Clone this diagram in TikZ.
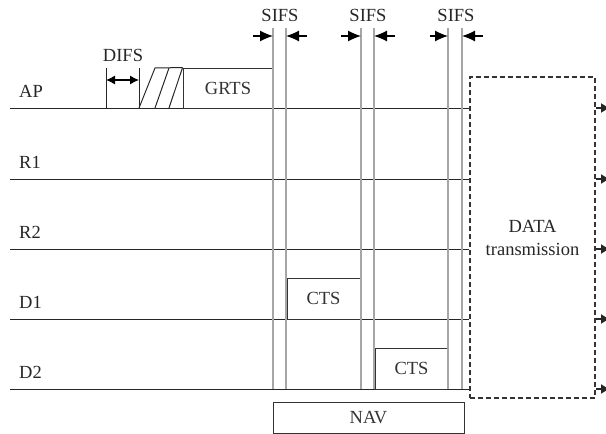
\documentclass[tikz,border=0pt]{standalone}
\usepackage{fontspec}
\setmainfont{Liberation Serif}
\usetikzlibrary{arrows.meta}
\begin{document}
\begin{tikzpicture}[x=1pt,y=-1pt,
  font=\fontsize{18.5}{21}\selectfont,
  tl/.style={line width=1pt,black!85},
  frame/.style={draw,line width=0.9pt,black!80,inner sep=0pt},
  gl/.style={line width=1.3pt,black!35},
  sarrow/.style={line width=1.1pt,-{Latex[length=13pt,width=11pt]}},
  datab/.style={draw,dashed,dash pattern=on 5pt off 3pt,line width=2pt,black!80,inner sep=0pt,align=center,text=black!85},
  lbl/.style={anchor=base west,inner sep=0pt,text=black!85}]
\useasboundingbox (0,0) rectangle (606,434);

% DATA box
\node[datab,minimum width=125pt,minimum height=321pt] (data) at (532.5,237.5) {DATA\\[2pt]transmission};

% timelines
\foreach \n/\y in {AP/108,R1/179,R2/249,D1/319,D2/389}{
  \coordinate (s\n) at (10,\y);
  \coordinate (e\n) at (data.west |- s\n);
  \coordinate (r\n) at (data.east |- s\n);
  \coordinate (t\n) at (610,\y);
  \draw[tl] (s\n) -- (e\n);
  \draw[line width=1.2pt,black!85,-{Latex[length=9pt,width=10pt]}] (r\n) -- (t\n);
  \node[lbl] (l\n) at (19,\y-11) {\n};
}

% GRTS
\node[frame,minimum width=90pt,minimum height=40pt] (grts) at (228,88) {GRTS};
% hatched backoff
\coordinate (h0) at (139,108);
\coordinate (h1) at (155,68);
\coordinate (h2) at (155,108);
\coordinate (h3) at (169,68);
\coordinate (h4) at (169,108);
\draw[tl] (h0) -- (h1) -- (grts.north west);
\draw[tl] (h2) -- (h3);
\draw[tl] (h4) -- (grts.north west);
% DIFS
\coordinate (d1t) at (106,68); \coordinate (d1b) at (106,108);
\coordinate (d2t) at (139,68); \coordinate (d2b) at (139,108);
\draw[tl] (d1t) -- (d1b);
\draw[tl] (d2t) -- (d2b);
\coordinate (da) at (106,80); \coordinate (db) at (139,80);
\draw[line width=1.1pt,{Latex[length=9pt,width=9pt]}-{Latex[length=9pt,width=9pt]}] (da) -- (db);
\node[inner sep=0pt,text=black!85] (difs) at (123,55) {DIFS};

% CTS boxes and NAV
\node[frame,minimum width=73pt,minimum height=41pt] (cts1) at (323.5,298.5) {CTS};
\node[frame,minimum width=73pt,minimum height=41pt] (cts2) at (411.5,368.5) {CTS};
\node[frame,minimum width=191pt,minimum height=31pt] (nav) at (368.5,417.5) {NAV};

% gray SIFS lines
\foreach \i/\x in {1/273,2/286,3/361,4/374,5/448,6/462}{
  \coordinate (gt\i) at (\x,28);
  \coordinate (gb\i) at (\x,389);
  \draw[gl] (gt\i) -- (gb\i);
}
% SIFS arrows and labels
\foreach \k/\a/\b/\c/\d/\m in {1/253/273/307/286/280,2/341/361/395/374/368,3/430/448/483/462/456}{
  \coordinate (sa\k) at (\a,36); \coordinate (sb\k) at (\b,36);
  \coordinate (sc\k) at (\c,36); \coordinate (sd\k) at (\d,36);
  \draw[sarrow] (sa\k) -- (sb\k);
  \draw[sarrow] (sc\k) -- (sd\k);
  \node[inner sep=0pt,text=black!85] (sifs\k) at (\m,15) {SIFS};
}
\end{tikzpicture}
\end{document}
